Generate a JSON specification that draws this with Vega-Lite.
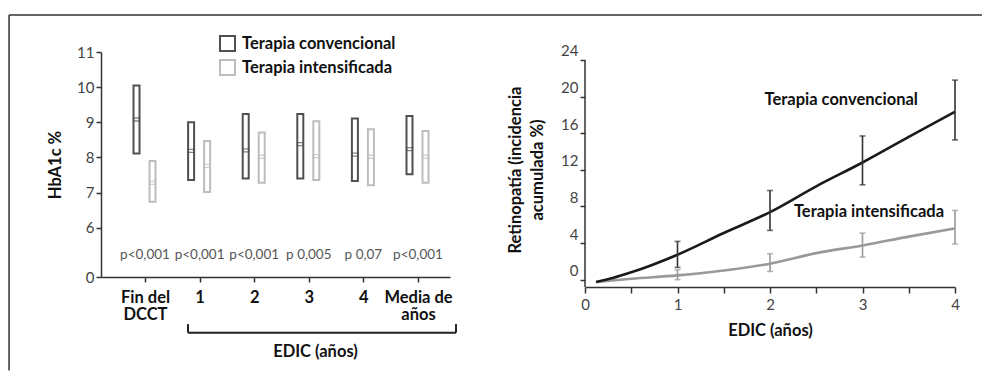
{
  "$schema": "https://vega.github.io/schema/vega-lite/v6.json",
  "padding": {"left": 8, "top": 14, "right": 0, "bottom": 0},
  "background": "white",
  "bounds": "flush",
  "spacing": 135,
  "config": {
    "view": {"stroke": null},
    "axis": {
      "labelFont": "Lato", "labelFontSize": 15, "labelColor": "#444",
      "titleFont": "Lato", "titleFontWeight": "bold", "titleFontSize": 16.5, "titleColor": "#111",
      "domainColor": "#333", "domainWidth": 1.5, "tickColor": "#333", "tickWidth": 1.5, "tickSize": 5, "grid": false,
      "labelOverlap": false, "labelFlush": false
    }
  },
  "hconcat": [
    {
      "width": 349,
      "height": 225,
      "data": {"values": [
        {"t": 1, "grupo": "Terapia convencional", "bajo": 8.11, "alto": 10.05, "medio": 9.08},
        {"t": 1, "grupo": "Terapia intensificada", "bajo": 6.74, "alto": 7.9, "medio": 7.28},
        {"t": 2, "grupo": "Terapia convencional", "bajo": 7.36, "alto": 9.0, "medio": 8.19},
        {"t": 2, "grupo": "Terapia intensificada", "bajo": 7.02, "alto": 8.47, "medio": 7.76},
        {"t": 3, "grupo": "Terapia convencional", "bajo": 7.4, "alto": 9.24, "medio": 8.2},
        {"t": 3, "grupo": "Terapia intensificada", "bajo": 7.28, "alto": 8.71, "medio": 8.02},
        {"t": 4, "grupo": "Terapia convencional", "bajo": 7.4, "alto": 9.24, "medio": 8.38},
        {"t": 4, "grupo": "Terapia intensificada", "bajo": 7.36, "alto": 9.03, "medio": 8.04},
        {"t": 5, "grupo": "Terapia convencional", "bajo": 7.33, "alto": 9.11, "medio": 8.08},
        {"t": 5, "grupo": "Terapia intensificada", "bajo": 7.21, "alto": 8.8, "medio": 8.02},
        {"t": 6, "grupo": "Terapia convencional", "bajo": 7.52, "alto": 9.18, "medio": 8.24},
        {"t": 6, "grupo": "Terapia intensificada", "bajo": 7.28, "alto": 8.75, "medio": 8.02}
      ]},
      "layer": [
        {
          "data": {"values": [{}]},
          "mark": {"type": "rule", "color": "#333", "strokeWidth": 1.5},
          "encoding": {
            "x": {"datum": -1.49, "type": "quantitative"},
            "x2": {"datum": 16.33},
            "y": {"datum": 12.05, "type": "quantitative"}
          }
        },
        {
          "data": {"values": [{}]},
          "mark": {"type": "rule", "color": "#333", "strokeWidth": 1.5},
          "encoding": {
            "x": {"datum": -1.49, "type": "quantitative"},
            "y": {"datum": 12.05, "type": "quantitative"},
            "y2": {"datum": 1.94}
          }
        },
        {
          "transform": [{"filter": "datum.grupo == 'Terapia convencional'"}],
          "mark": {"type": "bar", "width": 6, "filled": false, "strokeWidth": 2, "xOffset": -8.5},
          "encoding": {
            "x": {
              "field": "t", "type": "quantitative",
              "scale": {"domain": [0.194, 6.586], "nice": false, "zero": false, "padding": 0},
              "axis": {
                "values": [1, 2, 3, 4, 5, 6], "tickCount": 20,
                "labelExpr": "datum.value == 1 ? ['Fin del', 'DCCT'] : datum.value == 6 ? ['Media de', 'años'] : '' + (datum.value - 1)",
                "labelFont": "Lato",
                "labelFontWeight": "bold", "labelFontSize": 16.5, "labelColor": "#111",
                "labelLineHeight": 17.5, "labelPadding": 7, "labelBaseline": "top",
                "labelOverlap": false,
                "title": "EDIC (años)", "titleX": 214, "titleY": 74, "titleBaseline": "middle"
              }
            },
            "y": {
              "field": "bajo", "type": "quantitative",
              "scale": {"domain": [4.6, 11], "nice": false, "zero": false, "padding": 0},
              "axis": {
                "values": [4.6, 6, 7, 8, 9, 10, 11], "tickCount": 20,
                "labelExpr": "datum.value < 5 ? '0' : '' + datum.value",
                "labelOverlap": false,
                "title": "HbA1c %", "titlePadding": 13
              }
            },
            "y2": {"field": "alto"},
            "stroke": {
              "field": "grupo", "type": "nominal",
              "scale": {"domain": ["Terapia convencional", "Terapia intensificada"], "range": ["#505050", "#bdbdbd"]},
              "legend": {
                "orient": "none", "legendX": 118, "legendY": -17, "title": null,
                "symbolType": "square", "symbolSize": 225, "symbolStrokeWidth": 2, "symbolFillColor": "white",
                "labelFont": "Lato", "labelFontWeight": "bold", "labelLimit": 0,
                "labelFontSize": 16.5, "labelColor": "#111", "labelOffset": 6, "rowPadding": 1, "padding": 0
              }
            }
          }
        },
        {
          "transform": [{"filter": "datum.grupo == 'Terapia intensificada'"}],
          "mark": {"type": "bar", "width": 6, "filled": false, "strokeWidth": 2, "xOffset": 7.5},
          "encoding": {
            "x": {"field": "t", "type": "quantitative"},
            "y": {"field": "bajo", "type": "quantitative"},
            "y2": {"field": "alto"},
            "stroke": {"field": "grupo", "type": "nominal"}
          }
        },
        {
          "transform": [{"filter": "datum.grupo == 'Terapia convencional'"}],
          "mark": {"type": "tick", "orient": "horizontal", "size": 6, "thickness": 3, "filled": false, "strokeWidth": 1.3, "xOffset": -8.5},
          "encoding": {
            "x": {"field": "t", "type": "quantitative"},
            "y": {"field": "medio", "type": "quantitative"},
            "stroke": {"field": "grupo", "type": "nominal"}
          }
        },
        {
          "transform": [{"filter": "datum.grupo == 'Terapia intensificada'"}],
          "mark": {"type": "tick", "orient": "horizontal", "size": 6, "thickness": 3, "filled": false, "strokeWidth": 1.3, "xOffset": 7.5},
          "encoding": {
            "x": {"field": "t", "type": "quantitative"},
            "y": {"field": "medio", "type": "quantitative"},
            "stroke": {"field": "grupo", "type": "nominal"}
          }
        },
        {
          "data": {"values": [
            {"t": 1, "p": "p<0,001"},
            {"t": 2, "p": "p<0,001"},
            {"t": 3, "p": "p<0,001"},
            {"t": 4, "p": "p 0,005"},
            {"t": 5, "p": "p 0,07"},
            {"t": 6, "p": "p<0,001"}
          ]},
          "mark": {"type": "text", "font": "Lato", "fontSize": 13.5, "color": "#555", "baseline": "middle"},
          "encoding": {
            "x": {"field": "t", "type": "quantitative"},
            "y": {"datum": 5.22, "type": "quantitative"},
            "text": {"field": "p"}
          }
        },
        {
          "data": {"values": [{}]},
          "mark": {"type": "rule", "color": "#222", "strokeWidth": 2},
          "encoding": {
            "x": {"datum": 1.787, "type": "quantitative"},
            "x2": {"datum": 6.696},
            "y": {"datum": 3.017, "type": "quantitative"}
          }
        },
        {
          "data": {"values": [{}]},
          "mark": {"type": "rule", "color": "#222", "strokeWidth": 2},
          "encoding": {
            "x": {"datum": 1.787, "type": "quantitative"},
            "y": {"datum": 3.017, "type": "quantitative"},
            "y2": {"datum": 3.26}
          }
        },
        {
          "data": {"values": [{}]},
          "mark": {"type": "rule", "color": "#222", "strokeWidth": 2},
          "encoding": {
            "x": {"datum": 6.696, "type": "quantitative"},
            "y": {"datum": 3.017, "type": "quantitative"},
            "y2": {"datum": 3.26}
          }
        }
      ]
    },
    {
      "width": 370,
      "height": 235,
      "layer": [
        {
          "data": {"values": [{}]},
          "mark": {"type": "rule", "color": "#333", "strokeWidth": 1.5},
          "encoding": {
            "x": {
              "datum": 0, "type": "quantitative",
              "scale": {"domain": [0, 4], "nice": false, "zero": false, "padding": 0},
              "axis": {
                "values": [0, 0.5, 1, 1.5, 2, 2.5, 3, 3.5, 4], "tickCount": 20,
                "labelExpr": "datum.value % 1 == 0 ? '' + datum.value : ''",
                "labelFontSize": 15, "tickSize": 6, "labelPadding": 4, "labelOverlap": false,
                "title": "EDIC (años)", "titlePadding": 10
              }
            },
            "y": {
              "datum": -0.8, "type": "quantitative",
              "scale": {"domain": [-0.8, 24.87], "nice": false, "zero": false, "padding": 0},
              "axis": {
                "values": [0, 4, 8, 12, 16, 20, 24], "tickCount": 20,
                "domain": false, "labelOffset": -9, "labelFontSize": 15, "labelOverlap": false,
                "title": ["Retinopatía (incidencia", "acumulada %)"], "titleLineHeight": 22, "titlePadding": 15
              }
            },
            "y2": {"datum": 24}
          }
        },
        {
          "data": {"values": [
            {"serie": "Terapia convencional", "anio": 0.12, "incidencia": -0.25},
            {"serie": "Terapia convencional", "anio": 0.3, "incidencia": 0.18},
            {"serie": "Terapia convencional", "anio": 0.5, "incidencia": 0.8},
            {"serie": "Terapia convencional", "anio": 1, "incidencia": 2.73},
            {"serie": "Terapia convencional", "anio": 1.5, "incidencia": 5.1},
            {"serie": "Terapia convencional", "anio": 2, "incidencia": 7.38},
            {"serie": "Terapia convencional", "anio": 2.5, "incidencia": 10.2},
            {"serie": "Terapia convencional", "anio": 3, "incidencia": 12.8},
            {"serie": "Terapia convencional", "anio": 3.5, "incidencia": 15.6},
            {"serie": "Terapia convencional", "anio": 4, "incidencia": 18.35},
            {"serie": "Terapia intensificada", "anio": 0.12, "incidencia": -0.25},
            {"serie": "Terapia intensificada", "anio": 0.5, "incidencia": 0.1},
            {"serie": "Terapia intensificada", "anio": 1, "incidencia": 0.47},
            {"serie": "Terapia intensificada", "anio": 1.5, "incidencia": 1.0},
            {"serie": "Terapia intensificada", "anio": 2, "incidencia": 1.75},
            {"serie": "Terapia intensificada", "anio": 2.5, "incidencia": 2.9},
            {"serie": "Terapia intensificada", "anio": 3, "incidencia": 3.74},
            {"serie": "Terapia intensificada", "anio": 3.5, "incidencia": 4.7},
            {"serie": "Terapia intensificada", "anio": 4, "incidencia": 5.6}
          ]},
          "layer": [
            {
              "transform": [{"filter": "datum.serie == 'Terapia intensificada'"}],
              "mark": {"type": "line", "strokeWidth": 2.6, "interpolate": "monotone", "color": "#999999"},
              "encoding": {
                "x": {"field": "anio", "type": "quantitative"},
                "y": {"field": "incidencia", "type": "quantitative"}
              }
            },
            {
              "transform": [{"filter": "datum.serie == 'Terapia convencional'"}],
              "mark": {"type": "line", "strokeWidth": 2.6, "interpolate": "monotone", "color": "#1a1a1a"},
              "encoding": {
                "x": {"field": "anio", "type": "quantitative"},
                "y": {"field": "incidencia", "type": "quantitative"}
              }
            }
          ]
        },
        {
          "data": {"values": [
            {"serie": "Terapia convencional", "anio": 1, "bajo": 1.34, "alto": 4.18},
            {"serie": "Terapia convencional", "anio": 2, "bajo": 5.38, "alto": 9.74},
            {"serie": "Terapia convencional", "anio": 3, "bajo": 10.36, "alto": 15.7},
            {"serie": "Terapia convencional", "anio": 4, "bajo": 15.27, "alto": 21.8},
            {"serie": "Terapia intensificada", "anio": 1, "bajo": 0.0, "alto": 1.09},
            {"serie": "Terapia intensificada", "anio": 2, "bajo": 0.9, "alto": 2.84},
            {"serie": "Terapia intensificada", "anio": 3, "bajo": 2.47, "alto": 5.09},
            {"serie": "Terapia intensificada", "anio": 4, "bajo": 3.9, "alto": 7.56}
          ]},
          "layer": [
            {
              "transform": [{"filter": "datum.serie == 'Terapia intensificada'"}],
              "layer": [
                {
                  "mark": {"type": "rule", "strokeWidth": 1.6, "color": "#999999"},
                  "encoding": {
                    "x": {"field": "anio", "type": "quantitative"},
                    "y": {"field": "bajo", "type": "quantitative"},
                    "y2": {"field": "alto"}
                  }
                },
                {
                  "mark": {"type": "tick", "orient": "horizontal", "size": 6, "thickness": 1.6, "color": "#999999"},
                  "encoding": {
                    "x": {"field": "anio", "type": "quantitative"},
                    "y": {"field": "bajo", "type": "quantitative"}
                  }
                },
                {
                  "mark": {"type": "tick", "orient": "horizontal", "size": 6, "thickness": 1.6, "color": "#999999"},
                  "encoding": {
                    "x": {"field": "anio", "type": "quantitative"},
                    "y": {"field": "alto", "type": "quantitative"}
                  }
                }
              ]
            },
            {
              "transform": [{"filter": "datum.serie == 'Terapia convencional'"}],
              "layer": [
                {
                  "mark": {"type": "rule", "strokeWidth": 1.6, "color": "#333333"},
                  "encoding": {
                    "x": {"field": "anio", "type": "quantitative"},
                    "y": {"field": "bajo", "type": "quantitative"},
                    "y2": {"field": "alto"}
                  }
                },
                {
                  "mark": {"type": "tick", "orient": "horizontal", "size": 6, "thickness": 1.6, "color": "#333333"},
                  "encoding": {
                    "x": {"field": "anio", "type": "quantitative"},
                    "y": {"field": "bajo", "type": "quantitative"}
                  }
                },
                {
                  "mark": {"type": "tick", "orient": "horizontal", "size": 6, "thickness": 1.6, "color": "#333333"},
                  "encoding": {
                    "x": {"field": "anio", "type": "quantitative"},
                    "y": {"field": "alto", "type": "quantitative"}
                  }
                }
              ]
            }
          ]
        },
        {
          "data": {"values": [{}]},
          "mark": {"type": "text", "text": "Terapia convencional", "font": "Lato", "fontWeight": "bold", "fontSize": 16.5, "color": "#111", "align": "center", "baseline": "middle"},
          "encoding": {
            "x": {"datum": 2.77, "type": "quantitative"},
            "y": {"datum": 19.63, "type": "quantitative"}
          }
        },
        {
          "data": {"values": [{}]},
          "mark": {"type": "text", "text": "Terapia intensificada", "font": "Lato", "fontWeight": "bold", "fontSize": 16.5, "color": "#111", "align": "center", "baseline": "middle"},
          "encoding": {
            "x": {"datum": 3.07, "type": "quantitative"},
            "y": {"datum": 7.38, "type": "quantitative"}
          }
        }
      ]
    }
  ]
}
